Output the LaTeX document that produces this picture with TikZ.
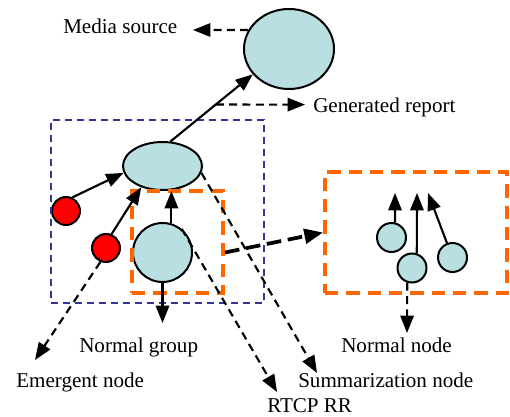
\documentclass[tikz,border=0pt]{standalone}
\usepackage{fontspec}
\setmainfont{Liberation Serif}
\usetikzlibrary{shapes.geometric,arrows.meta,fit}

\definecolor{nodeblue}{RGB}{185,223,226}
\definecolor{grpblue}{RGB}{51,51,153}
\definecolor{boxorange}{RGB}{255,102,0}

\tikzset{
  lbl/.style={anchor=base west, inner sep=0pt, font=\fontsize{15.8}{18}\selectfont},
  ring/.style={draw, line width=1.5pt, inner sep=0pt},
  ovalbig/.style={ring, ellipse, fill=nodeblue, minimum width=67.5pt, minimum height=60pt},
  ovalsum/.style={ring, ellipse, fill=nodeblue, minimum width=59.25pt, minimum height=36pt},
  emerg/.style={ring, circle, fill=red, minimum size=21pt},
  normbig/.style={ring, circle, fill=nodeblue, minimum size=44.25pt},
  normsmall/.style={ring, circle, fill=nodeblue, minimum size=21.75pt},
  groupbox/.style={draw=grpblue, line width=0.9pt, dash pattern=on 5.5pt off 3.5pt, inner sep=0pt},
  orangebox/.style={draw=boxorange, line width=3pt, dash pattern=on 10pt off 6pt, inner sep=0pt},
  solidarrow/.style={line width=1.6pt, -{Triangle[length=13pt,width=10pt]}},
  dasharrow/.style={solidarrow, dash pattern=on 6pt off 4pt},
  thickarrow/.style={line width=2.8pt, dash pattern=on 11pt off 5pt, -{Triangle[length=14pt,width=11pt]}}
}

\begin{document}
\begin{tikzpicture}[x=0.75pt, y=-0.75pt]
\useasboundingbox (0,0) rectangle (510,417);

% nodes
\node[ovalbig] (src) at (289,49) {};
\node[ovalsum] (sum) at (162.5,166) {};
\node[emerg] (em1) at (66,211) {};
\node[emerg] (em2) at (106,248) {};
\node[normbig] (norm) at (162.5,252.5) {};
\node[normsmall] (n1) at (391.5,237.5) {};
\node[normsmall] (n2) at (412,268) {};
\node[normsmall] (n3) at (452.5,257.5) {};

% boxes
\node[groupbox, fit={(51,120) (264,303)}] (grp) {};
\node[orangebox, fit={(132,191) (223,293)}] (sel) {};
\node[orangebox, fit={(325,172) (507,293)}] (detbox) {};

% labels
\node[lbl] (srclbl) at (63,34) {Media source};
\node[lbl] (genlbl) at (313,113) {Generated report};
\node[lbl] (grplbl) at (79,352) {Normal group};
\node[lbl] (nodelbl) at (341,352) {Normal node};
\node[lbl] (emlbl) at (16,387) {Emergent node};
\node[lbl] (sumlbl) at (298,387) {Summarization node};
\node[lbl] (rrlbl) at (267,412) {RTCP RR};

% arrow ends
\coordinate (srcend) at (193,30);
\coordinate (genend) at (305,104.6);
\coordinate (grpend) at (162.5,323);
\coordinate (n1end) at (395,193);
\coordinate (n2end) at (417,193);
\coordinate (n3end) at (428,193);
\coordinate (emend) at (35,360);
\coordinate (rrend) at (277,392);
\coordinate (sumend) at (317,373);
\coordinate (nodeend) at (407,333);

% arrows
\draw[solidarrow] (sum.72) -- (src.215);
\path (sum.72) -- coordinate[pos=0.55] (genstart) (src.215);
\draw[solidarrow] (em1.65) -- (sum.190);
\draw[solidarrow] (em2.68) -- (sum.225);
\draw[solidarrow] (norm.73) -- (norm.73 |- sum.south);
\draw[solidarrow] (norm.south) -- (grpend);
\draw[solidarrow] (n1.77) -- (n1end);
\draw[solidarrow] (n2.72) -- (n2end);
\draw[solidarrow] (n3.111) -- (n3end);

\draw[dasharrow] (src.155) -- (srcend);
\draw[dasharrow] (genstart) -- (genend);
\draw[dasharrow] (em2.248) -- (emend);
\draw[dasharrow] (norm.51) -- (rrend);
\draw[dasharrow] (sum.-10) -- (sumend);
\draw[dasharrow] (n2.252) -- (nodeend);
\draw[thickarrow] (norm.east -| sel.east) -- (detbox.west);

\end{tikzpicture}
\end{document}
